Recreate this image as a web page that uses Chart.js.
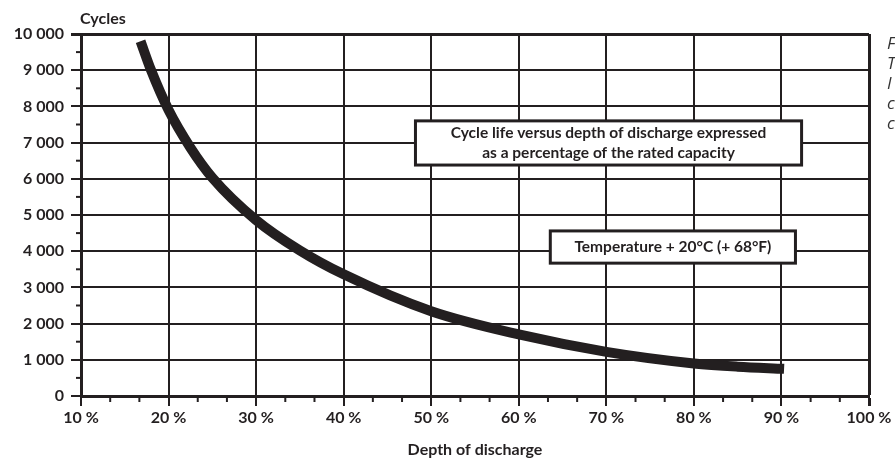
<!DOCTYPE html>
<html>
<head>
<meta charset="utf-8">
<script src="https://cdn.jsdelivr.net/npm/chart.js@4.4.1/dist/chart.umd.min.js"></script>
<style>
  html, body { margin: 0; padding: 0; background: #fff; }
  #wrap { width: 895px; height: 463px; position: relative; }
</style>
</head>
<body>
<div id="wrap"><canvas id="cycleChart"></canvas></div>
<script>
"use strict";

// values
var depthOfDischarge = [16.8, 18, 20, 22.5, 25, 30, 35, 40, 50, 60, 70, 80, 85, 90.3];
var cycleLife = [9800, 9000, 7900, 6860, 6030, 4860, 4020, 3360, 2340, 1700, 1220, 900, 810, 750];
var yTicks = [0, 1000, 2000, 3000, 4000, 5000, 6000, 7000, 8000, 9000, 10000];
var xTicks = [10, 20, 30, 40, 50, 60, 70, 80, 90, 100];
var noteLines = [
  ["Cycle life versus depth of discharge expressed", "as a percentage of the rated capacity"],
  ["Temperature + 20\u00b0C (+ 68\u00b0F)"],
];
// note boxes in data units: [xFrom, xTo, yTop, yBottom]
var noteBoxes = [
  [48.2, 92.3, 7600, 6380],
  [63.6, 91.6, 4560, 3670],
];
var sideText = ["F", "T", "I", "c", "c"];

var ink = "#231f20";
var fontFamily = "Lato, 'Open Sans', sans-serif";

function spaced(v) {
  return String(v).replace(/\B(?=(\d{3})+(?!\d))/g, " ");
}

var extrasPlugin = {
  id: "extras",
  beforeDatasetsDraw: function (chart) {
    var ctx = chart.ctx;
    var xs = chart.scales.x;
    var ys = chart.scales.y;
    ctx.save();
    ctx.strokeStyle = ink;
    ctx.lineWidth = 2;
    // minor ticks on the y axis every 500
    for (var v = 500; v < 10000; v += 1000) {
      var py = ys.getPixelForValue(v);
      ctx.beginPath();
      ctx.moveTo(xs.left - 5, py);
      ctx.lineTo(xs.left, py);
      ctx.stroke();
    }
    // minor ticks on the x axis every third of 10 %
    for (var t = 10; t < 100; t += 10) {
      [t + 10 / 3, t + 20 / 3].forEach(function (m) {
        var px = xs.getPixelForValue(m);
        ctx.beginPath();
        ctx.moveTo(px, ys.bottom);
        ctx.lineTo(px, ys.bottom + 6);
        ctx.stroke();
      });
    }
    ctx.restore();
  },
  afterDatasetsDraw: function (chart) {
    var ctx = chart.ctx;
    var xs = chart.scales.x;
    var ys = chart.scales.y;
    ctx.save();
    noteBoxes.forEach(function (b, i) {
      var x0 = xs.getPixelForValue(b[0]);
      var x1 = xs.getPixelForValue(b[1]);
      var y0 = ys.getPixelForValue(b[2]);
      var y1 = ys.getPixelForValue(b[3]);
      ctx.fillStyle = "#fff";
      ctx.fillRect(x0, y0, x1 - x0, y1 - y0);
      ctx.strokeStyle = ink;
      ctx.lineWidth = 3;
      ctx.strokeRect(x0, y0, x1 - x0, y1 - y0);
      ctx.fillStyle = ink;
      ctx.font = "bold 15.5px " + fontFamily;
      ctx.textAlign = "center";
      ctx.textBaseline = "middle";
      var lines = noteLines[i];
      var cy = (y0 + y1) / 2 - (lines.length - 1) * 10;
      lines.forEach(function (l, k) {
        ctx.fillText(l, (x0 + x1) / 2, cy + k * 20);
      });
    });
    // axis caption above the y axis
    ctx.fillStyle = ink;
    ctx.font = "bold 16px " + fontFamily;
    ctx.textAlign = "left";
    ctx.textBaseline = "middle";
    ctx.fillText("Cycles", xs.left - 1, 19);
    // clipped italic text at the right edge
    ctx.fillStyle = "#333";
    ctx.font = "italic 17px 'Open Sans', sans-serif";
    sideText.forEach(function (s, k) {
      ctx.fillText(s, 887, 44 + k * 20);
    });
    ctx.restore();
  },
};

var ctx = document.getElementById("cycleChart").getContext("2d");
var cycleChart = new Chart(ctx, {
  type: "line",
  data: {
    datasets: [
      {
        data: depthOfDischarge.map(function (d, i) {
          return { x: d, y: cycleLife[i] };
        }),
        borderColor: ink,
        borderWidth: 10,
        borderCapStyle: "butt",
        cubicInterpolationMode: "monotone",
        pointRadius: 0,
        fill: false,
      },
    ],
  },
  options: {
    responsive: true,
    maintainAspectRatio: false,
    animation: false,
    layout: { padding: { top: 34, right: 26, left: 0, bottom: 0 } },
    plugins: {
      legend: { display: false },
      tooltip: { enabled: false },
    },
    scales: {
      x: {
        type: "linear",
        min: 10,
        max: 100,
        afterBuildTicks: function (scale) {
          scale.ticks = xTicks.map(function (v) { return { value: v }; });
        },
        afterFit: function (scale) { scale.height = 67; },
        grid: {
          color: ink,
          lineWidth: function (c) { return c.tick && c.tick.value === 100 ? 3 : 2; },
          tickLength: 10,
          tickColor: ink,
        },
        border: { color: ink, width: 3 },
        ticks: {
          color: ink,
          padding: 2,
          maxRotation: 0,
          font: { family: fontFamily, size: 16, weight: "bold" },
          callback: function (v) { return v + " %"; },
        },
        title: {
          display: true,
          text: "Depth of discharge",
          color: ink,
          padding: { top: 13 },
          font: { family: fontFamily, size: 16, weight: "bold" },
        },
      },
      y: {
        min: 0,
        max: 10000,
        afterBuildTicks: function (scale) {
          scale.ticks = yTicks.map(function (v) { return { value: v }; });
        },
        afterFit: function (scale) { scale.width = 81; },
        grid: {
          color: ink,
          lineWidth: function (c) { return c.tick && c.tick.value === 10000 ? 3 : 2; },
          tickLength: 10,
          tickColor: ink,
        },
        border: { color: ink, width: 3 },
        ticks: {
          color: ink,
          padding: 7,
          font: { family: fontFamily, size: 16, weight: "bold" },
          callback: function (v) { return spaced(v); },
        },
      },
    },
  },
  plugins: [extrasPlugin],
});
</script>
</body>
</html>
